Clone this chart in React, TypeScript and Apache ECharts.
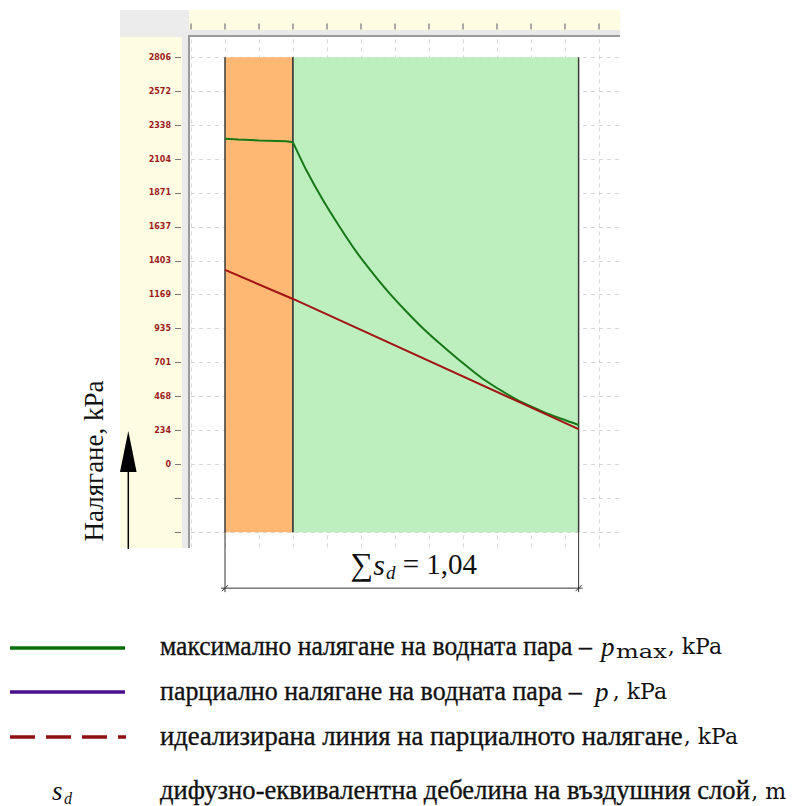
import React, { useEffect, useRef } from "react";
import * as echarts from "echarts";

// ---------------- data ----------------
const yMaxLabelValue = 2806;
const yTickLabels = ["0", "234", "468", "701", "935", "1169", "1403", "1637", "1871", "2104", "2338", "2572", "2806"];
const layerBounds = [0, 0.2, 1.04];
// p_max inside layer 1 (orange)
const pmaxSdL1 = [0, 0.04, 0.1, 0.18, 0.2];
const pmaxValuesL1 = [2244, 2239, 2233, 2227, 2220];
// p_max inside layer 2 (green)
const pmaxSdL2 = [0.2, 0.239, 0.288, 0.337, 0.386, 0.435, 0.484, 0.534, 0.582, 0.631, 0.686, 0.758, 0.858, 0.926, 0.955, 1.04];
const pmaxValuesL2 = [2220, 2029, 1822, 1638, 1466, 1317, 1179, 1052, 938, 834, 724, 590, 446, 372, 343, 271];
const pSd = [0, 0.2, 1.04];
const pValues = [1340, 1140, 243];
const rulerTicks = [-0.1, 0, 0.1, 0.2, 0.3, 0.4, 0.5, 0.6, 0.7, 0.8, 0.9, 1.0, 1.1];
const sumSdLabel = "1,04";
const axisTitle = "Налягане, kPa";
const legendTexts = [
  "максимално налягане на водната пара –",
  "парциално налягане на водната пара –",
  "идеализирана линия на парциалното налягане",
  "дифузно-еквивалентна дебелина на въздушния слой",
];
const legendTails = [", kPa", ", kPa", ", kPa", ", m"];

// ---------------- styles / layout ----------------
const yStep = yMaxLabelValue / 12;
const X_MIN = -0.1;
const X_MAX = 1.16;
const Y_MIN = -3 * yStep;
const Y_MAX = 13 * yStep;
const LAYER_TOP = 12 * yStep;
const LAYER_BOTTOM = -2 * yStep;
const layerColors = ["#ffb874", "#bdeebd"];
const YELLOW = "#fefde3";
const SERIF_FAMILY = "Liberation Serif";
const SERIF = "'Liberation Serif', 'Times New Roman', serif";
const DSERIF = "'DejaVu Serif', serif";
const PMAX_COLOR = "#187818";
const P_COLOR = "#a31414";

const yTickValues: number[] = [];
for (let k = -2; k <= 12; k++) yTickValues.push(k * yStep);
const yLabelValues: number[] = [];
for (let k = 0; k <= 12; k++) yLabelValues.push(k * yStep);

function measure(text: string, font: string): number {
  const c = document.createElement("canvas");
  const ctx = c.getContext("2d")!;
  ctx.font = font;
  return ctx.measureText(text).width;
}

export default function App() {
  const ref = useRef<HTMLDivElement>(null);

  useEffect(() => {
    if (!ref.current) return;
    const chart = echarts.init(ref.current, undefined, { renderer: "svg" });

    const cyrFont = `28px ${SERIF}`;
    const tailFont = `22px ${DSERIF}`;
    const subFont = `18px ${DSERIF}`;
    const rowMid = [645.5, 690.5, 735.5, 790];
    const lineY = [648, 692, 737, 793];

    const tailW = legendTails.map((t) => measure(t, tailFont));
    const tailEnds = [722, 667, 738, 786];
    const cyrEnds = [592, 582, tailEnds[2] - tailW[2] - 1, tailEnds[3] - tailW[3] - 1];

    const txt = (x: number, y: number, text: string, font: string, extra: any = {}) => ({
      type: "text",
      x,
      y,
      z: 10,
      ...extra,
      style: { text, font, fill: "#111", textAlign: "left", textVerticalAlign: "middle", ...(extra.style || {}) },
    });

    const legendGraphics: any[] = [];
    legendTexts.forEach((t, i) => {
      const w = measure(t, cyrFont);
      const sx = (cyrEnds[i] - 160) / w;
      legendGraphics.push(txt(160, rowMid[i], t, cyrFont, { scaleX: sx, style: { stroke: "#111", lineWidth: 0.35 } }));
      legendGraphics.push(txt(tailEnds[i], rowMid[i] + 1, legendTails[i], tailFont, { style: { textAlign: "right" } }));
    });
    const maxStart = 616;
    const maxEnd = tailEnds[0] - tailW[0] - 1;
    const maxW = measure("max", subFont);
    legendGraphics.push(
      txt(601, rowMid[0] + 1, "p", `italic 27px ${SERIF}`),
      txt(maxStart, rowMid[0] + 6, "max", subFont, { scaleX: (maxEnd - maxStart) / maxW }),
      txt(595, rowMid[1] + 1, "p", `italic 27px ${SERIF}`),
      txt(52, rowMid[3] + 1, "s", `italic 27px ${SERIF}`),
      txt(64, rowMid[3] + 8, "d", `italic 16px ${SERIF}`),
    );
    legendGraphics.push(
      { type: "line", z: 10, shape: { x1: 10, y1: lineY[0], x2: 125, y2: lineY[0] }, style: { stroke: "#0b6e0b", lineWidth: 3.5 } },
      { type: "line", z: 10, shape: { x1: 10, y1: lineY[1], x2: 125, y2: lineY[1] }, style: { stroke: "#4a0f8c", lineWidth: 3.5 } },
      { type: "line", z: 10, shape: { x1: 10, y1: lineY[2], x2: 126, y2: lineY[2] }, style: { stroke: "#8e1010", lineWidth: 3.5, lineDash: [25, 11] } },
    );

    const hiddenLine = { show: true, onZero: false, lineStyle: { color: "rgba(0,0,0,0)", width: 0.01 } };

    const option: any = {
      animation: false,
      grid: { left: 191, top: 23.4, width: 428.4, height: 542.65, containLabel: false, outerBoundsMode: "none", show: false },
      xAxis: [
        {
          type: "value", min: X_MIN, max: X_MAX, interval: 0.1, position: "bottom", z: 0,
          axisLine: { show: false, onZero: false }, axisTick: { show: false }, axisLabel: { show: false },
          splitLine: { show: true, showMaxLine: false, lineStyle: { color: "#d6d6d6", type: [4, 4], width: 1 } },
        },
        {
          type: "value", min: X_MIN, max: X_MAX, interval: 0.1, position: "top", z: 5,
          axisLine: hiddenLine,
          axisTick: { show: true, inside: true, length: 6, customValues: rulerTicks, lineStyle: { color: "#8c8c8c", width: 1.5 } },
          axisLabel: { show: false }, splitLine: { show: false },
        },
      ],
      yAxis: [
        {
          type: "value", min: Y_MIN, max: Y_MAX, interval: yStep, z: 0,
          axisLine: { show: false, onZero: false }, axisTick: { show: false }, axisLabel: { show: false },
          splitLine: { show: true, lineStyle: { color: "#d6d6d6", type: [4, 4], width: 1 } },
        },
        {
          type: "value", min: Y_MIN, max: Y_MAX, interval: yStep, position: "left", offset: 10, z: 5,
          axisLine: hiddenLine,
          axisTick: { show: true, length: 6, customValues: yTickValues, lineStyle: { color: "#7a7a7a", width: 1 } },
          axisLabel: {
            show: true, customValues: yLabelValues, margin: 10, color: "#9c1c1c", fontSize: 8, fontWeight: "bold",
            fontFamily: "DejaVu Sans",
            formatter: (v: number) => {
              const k = Math.round(v / yStep);
              return k >= 0 && k < yTickLabels.length ? yTickLabels[k] : "";
            },
          },
          splitLine: { show: false },
        },
      ],
      series: [
        {
          type: "custom", name: "layers", xAxisIndex: 0, yAxisIndex: 0, z: 2,
          data: layerBounds.slice(0, -1).map((b, i) => [b, layerBounds[i + 1]]),
          encode: { x: [0, 1] },
          renderItem: (params: any, api: any) => {
            const p0 = api.coord([api.value(0), LAYER_TOP]);
            const p1 = api.coord([api.value(1), LAYER_BOTTOM]);
            return {
              type: "group",
              children: [
                { type: "rect", shape: { x: p0[0], y: p0[1], width: p1[0] - p0[0], height: p1[1] - p0[1] }, style: { fill: layerColors[params.dataIndex] } },
                { type: "line", shape: { x1: p0[0], y1: p0[1], x2: p0[0], y2: p1[1] }, style: { stroke: "#3a3a3a", lineWidth: 1.5 } },
                { type: "line", shape: { x1: p1[0], y1: p0[1], x2: p1[0], y2: p1[1] }, style: { stroke: "#3a3a3a", lineWidth: 1.5 } },
              ],
            };
          },
        },
        {
          type: "line", name: "pmax", xAxisIndex: 0, yAxisIndex: 0, z: 3,
          data: pmaxSdL1.map((x, i) => [x, pmaxValuesL1[i]]),
          showSymbol: false, symbol: "none",
          lineStyle: { color: PMAX_COLOR, width: 2 },
        },
        {
          type: "line", name: "pmax", xAxisIndex: 0, yAxisIndex: 0, z: 3,
          data: pmaxSdL2.map((x, i) => [x, pmaxValuesL2[i]]),
          showSymbol: false, symbol: "none", smooth: 0.25,
          lineStyle: { color: PMAX_COLOR, width: 2 },
        },
        {
          type: "line", name: "p", xAxisIndex: 0, yAxisIndex: 0, z: 3,
          data: pSd.map((x, i) => [x, pValues[i]]),
          showSymbol: false, symbol: "none",
          lineStyle: { color: P_COLOR, width: 2 },
        },
        {
          type: "custom", name: "dimension", xAxisIndex: 0, yAxisIndex: 0, z: 8,
          data: [[layerBounds[0], layerBounds[layerBounds.length - 1]]],
          encode: { x: [0, 1] },
          renderItem: (params: any, api: any) => {
            const a = api.coord([api.value(0), LAYER_BOTTOM]);
            const b = api.coord([api.value(1), LAYER_BOTTOM]);
            const yTop = a[1];
            const yDim = yTop + 56;
            const st = { stroke: "#333", lineWidth: 1 };
            return {
              type: "group",
              children: [
                { type: "line", shape: { x1: a[0], y1: yTop, x2: a[0], y2: yDim + 4 }, style: st },
                { type: "line", shape: { x1: b[0], y1: yTop, x2: b[0], y2: yDim + 4 }, style: st },
                { type: "line", shape: { x1: a[0] - 4, y1: yDim, x2: b[0] + 4, y2: yDim }, style: st },
                { type: "line", shape: { x1: a[0] - 3, y1: yDim + 3, x2: a[0] + 3, y2: yDim - 3 }, style: st },
                { type: "line", shape: { x1: b[0] - 3, y1: yDim + 3, x2: b[0] + 3, y2: yDim - 3 }, style: st },
                {
                  type: "text",
                  x: (a[0] + b[0]) / 2 + 12,
                  y: yTop + 32,
                  style: {
                    text: "{m|∑}{s|s}{d|d}{n| = " + sumSdLabel + "}",
                    textAlign: "center",
                    textVerticalAlign: "middle",
                    rich: {
                      m: { fontSize: 32, fontFamily: SERIF_FAMILY, lineHeight: 32, fill: "#111" },
                      s: { fontSize: 30, fontFamily: SERIF_FAMILY, fontStyle: "italic", lineHeight: 32, fill: "#111" },
                      d: { fontSize: 19, fontFamily: SERIF_FAMILY, fontStyle: "italic", lineHeight: 19, padding: [17, 0, 0, 1], fill: "#111" },
                      n: { fontSize: 29, fontFamily: SERIF_FAMILY, lineHeight: 32, fill: "#111" },
                    },
                  },
                },
              ],
            };
          },
        },
      ],
      graphic: {
        elements: [
          { type: "rect", z: 1, shape: { x: 120, y: 37, width: 62, height: 511 }, style: { fill: YELLOW } },
          { type: "rect", z: 1, shape: { x: 182, y: 37, width: 7, height: 511 }, style: { fill: "#ebebeb" } },
          { type: "rect", z: 1, shape: { x: 120, y: 10, width: 69, height: 27 }, style: { fill: "#ececec" } },
          { type: "rect", z: 1, shape: { x: 189, y: 10, width: 431, height: 20 }, style: { fill: YELLOW } },
          { type: "rect", z: 1, shape: { x: 189, y: 30, width: 431, height: 6 }, style: { fill: "#e8e8e8" } },
          { type: "rect", z: 1, shape: { x: 0, y: 548, width: 792, height: 20 }, style: { fill: "#ffffff" } },
          { type: "line", z: 6, shape: { x1: 188, y1: 36, x2: 620, y2: 36 }, style: { stroke: "#9a9a9a", lineWidth: 2 } },
          { type: "line", z: 6, shape: { x1: 189, y1: 36, x2: 189, y2: 548 }, style: { stroke: "#9a9a9a", lineWidth: 2 } },
          { type: "polygon", z: 6, shape: { points: [[128.3, 431], [120, 472], [136.6, 472]] }, style: { fill: "#000" } },
          { type: "line", z: 6, shape: { x1: 128.3, y1: 470, x2: 128.3, y2: 549 }, style: { stroke: "#000", lineWidth: 1.5 } },
          {
            type: "text", z: 6, x: 94, y: 461, rotation: Math.PI / 2,
            style: { text: axisTitle, font: `27px ${SERIF}`, fill: "#111", textAlign: "center", textVerticalAlign: "middle" },
          },
          ...legendGraphics,
        ],
      },
    };

    chart.setOption(option);
    return () => chart.dispose();
  }, []);

  return <div ref={ref} style={{ position: "absolute", left: 0, top: 0, width: 792, height: 806, background: "#fff" }} />;
}
